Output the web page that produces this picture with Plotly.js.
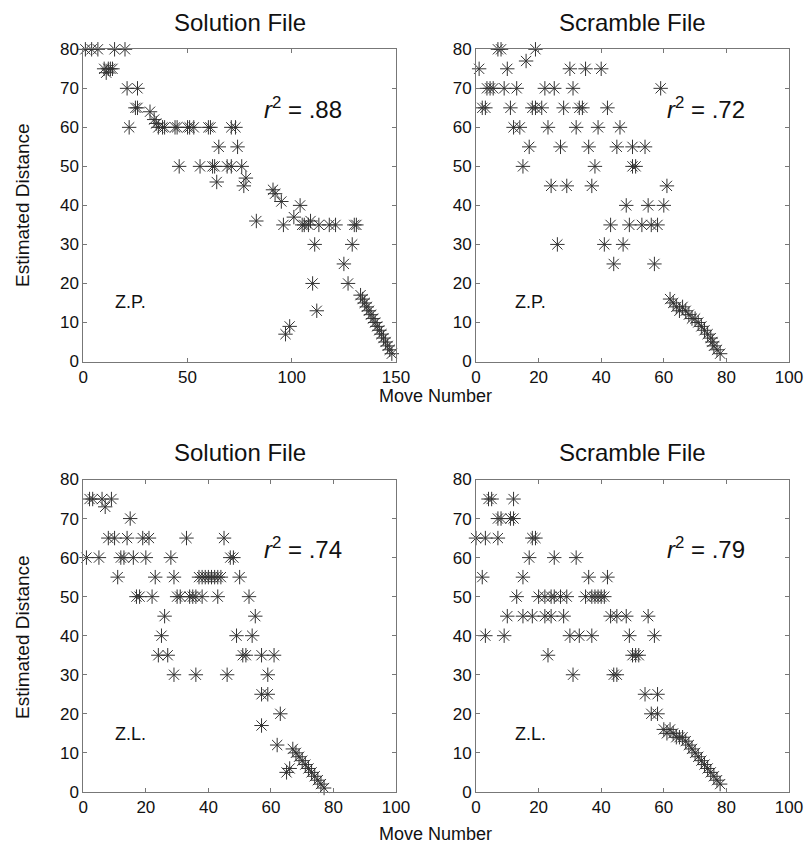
<!DOCTYPE html>
<html>
<head>
<meta charset="utf-8">
<script src="https://cdn.plot.ly/plotly-3.0.1.min.js"></script>
<style>html,body{margin:0;padding:0;background:#fff;}#chart{width:806px;height:853px;}</style>
</head>
<body>
<div id="chart"></div>
<script>
// ---- Data ----
// Top-left: Solution File, Z.P.
const tlX = [1,4,7,15,20, 10,11,12,13,14, 21,26, 25,26, 32,34,35,
  22,36,38,39,44,45,50,51,53,60,61,71,73, 65,74, 46,56,62,63,69,71,76,
  64,77,78, 91,92,95,104,101,83, 96,105,106,108,109,113,118,121,130,131,
  111,129, 125, 110,127, 112,99,97,
  133,134,135,136,137,138,139,140,141,142,143,144,145,146,147,148];
const tlY = [80,80,80,80,80, 75,74,75,75,75, 70,70, 65,65, 64,62,61,
  60,60,60,60,60,60,60,60,60,60,60,60,60, 55,55, 50,50,50,50,50,50,50,
  46,45,47, 44,43,41,40,37,36, 35,35,35,35,36,35,35,35,35,35,
  30,30, 25, 20,20, 13,9,7,
  17,16,15,14,13,12,11,10,9,8,7,6,5,4,3,2];

// Top-right: Scramble File, Z.P.
const trX = [7,8,19, 16, 1,10,30,35,40, 3.5,4.5,5.5,9,13,22,25,31,59,
  2,3,11,18,19,21,28,33,34,42, 12,14,23,32,39,46, 17,27,36,45,50,54,
  15,38,50,51, 24,29,37,61, 48,55,60, 43,49,53,56,58, 26,41,47, 44,57,
  62,63,64,66,65,67,68,69,70,71,72,73,74,75,75.5,76,77,78];
const trY = [80,80,80, 77, 75,75,75,75,75, 70,70,70,70,70,70,70,70,70,
  65,65,65,65,65,65,65,65,65,65, 60,60,60,60,60,60, 55,55,55,55,55,55,
  50,50,50,50, 45,45,45,45, 40,40,40, 35,35,35,35,35, 30,30,30, 25,25,
  16,15,14,14,13,13,12,11,11,10,9,8,7,6,5,4,3,2];

// Bottom-left: Solution File, Z.L.
const blX = [2,3,6,9, 7, 15, 8,10,14,19,21,33,45,
  1,5,12,13,16,20,28,47,48,
  11,23,29,37,38,39,40,41,42,43,44,50,
  17,18,22,30,31,34,35,36,38,43,53,
  26,55, 25,49,54,
  24,27,51,52,57,61, 29,36,46,59, 57,59, 63, 57,62,65,66,
  67,68,69,70,71,72,73,74,75,76,77];
const blY = [75,75,75,75, 73, 70, 65,65,65,65,65,65,65,
  60,60,60,60,60,60,60,60,60,
  55,55,55,55,55,55,55,55,55,55,55,55,
  50,50,50,50,50,50,50,50,50,50,50,
  45,45, 40,40,40,
  35,35,35,35,35,35, 30,30,30,30, 25,25, 20, 17,12,5,6,
  11,10,9,8,7,6,5,4,3,2,1];

// Bottom-right: Scramble File, Z.L.
const brX = [4,5,12, 7,8,11,12, 0,3,7,18,19, 17,25,32, 2,15,36,42,
  13,20,22,24,25,27,29,35,37,38,39,40,41,
  10,15,18,22,24,28,43,45,48,55,
  3,9,30,33,37,49,57,
  23,50,51,52, 31,44,45, 54,58, 56,58,
  60,61,62,63,64,65,66,67,68,69,70,71,72,73,74,75,76,77,78];
const brY = [75,75,75, 70,70,70,70, 65,65,65,65,65, 60,60,60, 55,55,55,55,
  50,50,50,50,50,50,50,50,50,50,50,50,50,
  45,45,45,45,45,45,45,45,45,45,
  40,40,40,40,40,40,40,
  35,35,35,35, 30,30,30, 25,25, 20,20,
  16,15,16,15,14,14,14,13,12,11,10,9,8,7,6,5,4,3,2];

const panelTitles = ['Solution File','Scramble File','Solution File','Scramble File'];
const r2Labels = ['.88','.72','.74','.79'];
const subjects = ['Z.P.','Z.P.','Z.L.','Z.L.'];
const xLabel = 'Move Number';
const yLabel = 'Estimated Distance';

// ---- Styling / layout ----
const FONT = 'Liberation Sans, Arial, Helvetica, sans-serif';
const marker = {symbol:'asterisk-open', size:12, color:'#333', line:{color:'#333', width:1}};
function tr(x,y,xa,ya){return {x:x,y:y,xaxis:xa,yaxis:ya,type:'scatter',mode:'markers',marker:marker,cliponaxis:false,hoverinfo:'skip'};}
const data = [tr(tlX,tlY,'x','y'), tr(trX,trY,'x2','y2'), tr(blX,blY,'x3','y3'), tr(brX,brY,'x4','y4')];

const W=806,H=853;
const px=v=>v/W, py=v=>1-v/H;
const colL=[px(83.3),px(396)], colR=[px(476),px(789)];
const rowT=[py(361.5),py(49.3)], rowB=[py(791.9),py(479.5)];

function xax(dom,anchor,range,dtick){return {domain:dom,anchor:anchor,range:range,dtick:dtick,tick0:0,showline:true,mirror:'ticks',ticks:'inside',ticklen:4,tickcolor:'#777',linecolor:'#777',linewidth:1,showgrid:false,zeroline:false,tickfont:{size:17,color:'#111',family:FONT},fixedrange:true};}
function yax(dom,anchor){return {domain:dom,anchor:anchor,range:[0,80],dtick:10,tick0:0,showline:true,mirror:'ticks',ticks:'inside',ticklen:4,tickcolor:'#777',linecolor:'#777',linewidth:1,showgrid:false,zeroline:false,tickfont:{size:17,color:'#111',family:FONT},fixedrange:true};}

const ann=[];
const centersX=[(83.3+396)/2,(476+789)/2,(83.3+396)/2,(476+789)/2];
const titleY=[22,22,452,452];
const r2Pos=[[261.7,108],[665,108],[261.7,547.5],[665,548]];
const subjPos=[[113,301.7],[513,301.7],[113,734],[513,734]];
for(let i=0;i<4;i++){
  ann.push({xref:'paper',yref:'paper',x:px(centersX[i]),y:py(titleY[i]),text:panelTitles[i],showarrow:false,xanchor:'center',yanchor:'middle',font:{size:24,color:'#111',family:FONT}});
  ann.push({xref:'paper',yref:'paper',x:px(r2Pos[i][0]),y:py(r2Pos[i][1]),text:'<i>r</i><sup>2</sup> = '+r2Labels[i],showarrow:false,xanchor:'left',yanchor:'middle',font:{size:24,color:'#111',family:FONT}});
  ann.push({xref:'paper',yref:'paper',x:px(subjPos[i][0]),y:py(subjPos[i][1]),text:subjects[i],showarrow:false,xanchor:'left',yanchor:'middle',font:{size:18,color:'#111',family:FONT}});
}
ann.push({xref:'paper',yref:'paper',x:px(435),y:py(396),text:xLabel,showarrow:false,xanchor:'center',yanchor:'middle',font:{size:18,color:'#111',family:FONT}});
ann.push({xref:'paper',yref:'paper',x:px(435),y:py(834),text:xLabel,showarrow:false,xanchor:'center',yanchor:'middle',font:{size:18,color:'#111',family:FONT}});
ann.push({xref:'paper',yref:'paper',x:px(22),y:py(205),text:yLabel,textangle:-90,showarrow:false,xanchor:'center',yanchor:'middle',font:{size:19,color:'#111',family:FONT}});
ann.push({xref:'paper',yref:'paper',x:px(22),y:py(637),text:yLabel,textangle:-90,showarrow:false,xanchor:'center',yanchor:'middle',font:{size:19,color:'#111',family:FONT}});

const layout={
  width:W,height:H,margin:{l:0,r:0,t:0,b:0},paper_bgcolor:'#fff',plot_bgcolor:'#fff',showlegend:false,
  font:{family:FONT,color:'#111'},
  xaxis:xax(colL,'y',[0,150],50), yaxis:yax(rowT,'x'),
  xaxis2:xax(colR,'y2',[0,100],20), yaxis2:yax(rowT,'x2'),
  xaxis3:xax(colL,'y3',[0,100],20), yaxis3:yax(rowB,'x3'),
  xaxis4:xax(colR,'y4',[0,100],20), yaxis4:yax(rowB,'x4'),
  annotations:ann
};
Plotly.newPlot('chart',data,layout,{staticPlot:true,displayModeBar:false});
</script>
</body>
</html>
